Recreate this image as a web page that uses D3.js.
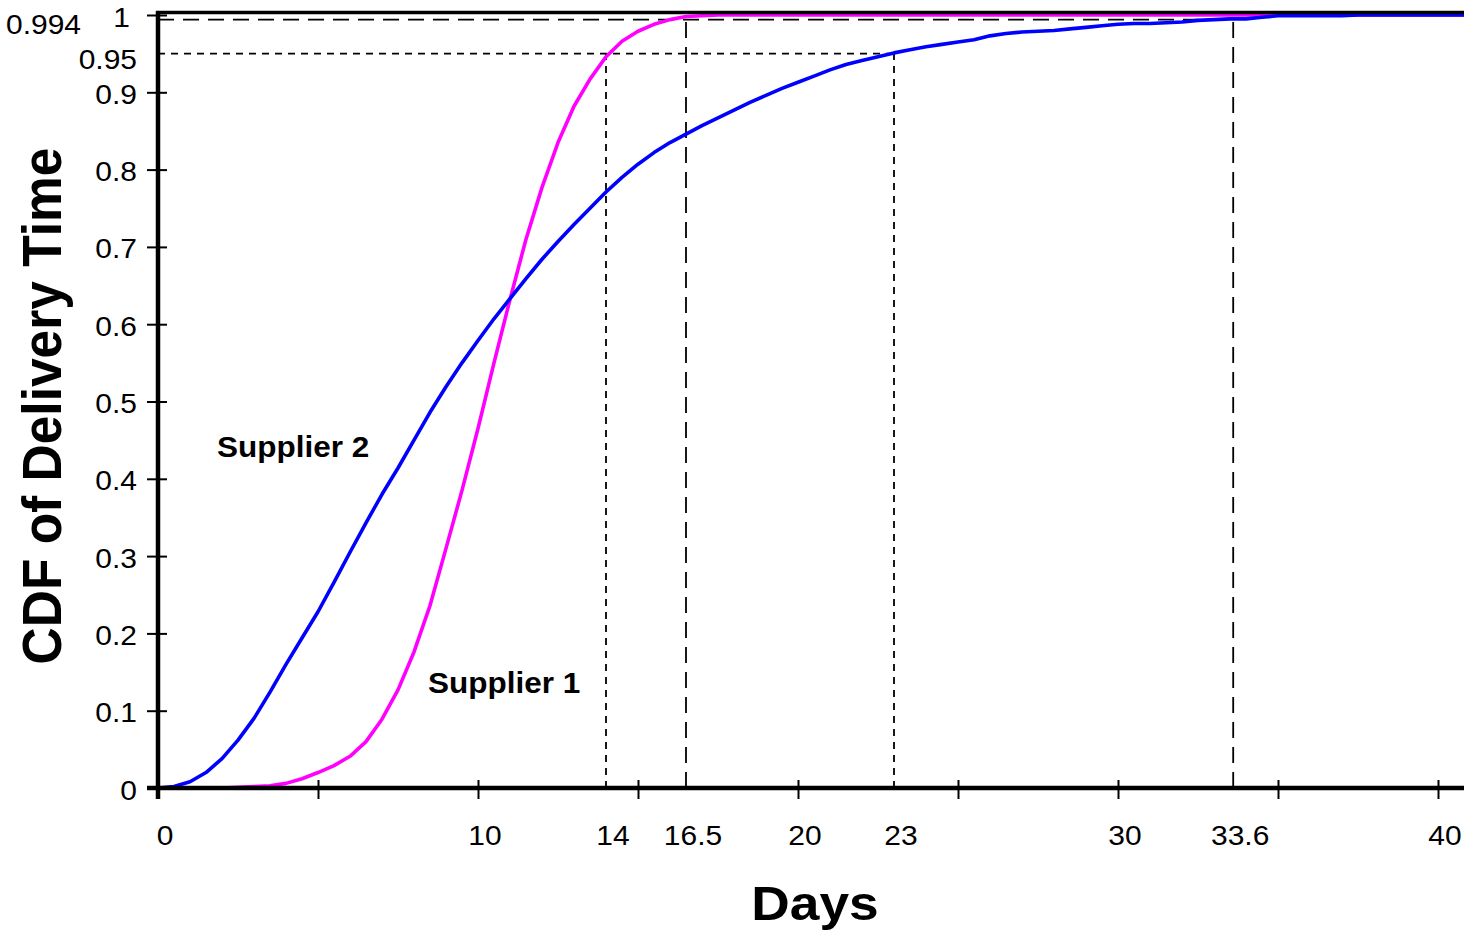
<!DOCTYPE html>
<html>
<head>
<meta charset="utf-8">
<script src="https://cdn.jsdelivr.net/npm/d3@7"></script>
<style>
  html, body { margin: 0; padding: 0; background: #fff; }
  svg { display: block; font-family: "Liberation Sans", Arial, sans-serif; }
</style>
</head>
<body>
<svg id="chart" width="1464" height="936"></svg>
<script>
// Delivery-time samples (days) and cumulative probabilities for both suppliers
const days = [
  0, 0.5, 1, 1.5, 2, 2.5, 3, 3.5, 4, 4.5, 5, 5.5, 6, 6.5, 7, 7.5, 8, 8.5, 9, 9.5,
  10, 10.5, 11, 11.5, 12, 12.5, 13, 13.5, 14, 14.5, 15, 15.5, 16, 16.5, 17, 17.5,
  18, 18.5, 19, 19.5, 20, 20.5, 21, 21.5, 22, 22.5, 23, 23.5, 24, 24.5, 25, 25.5,
  26, 26.5, 27, 27.5, 28, 28.5, 29, 29.5, 30, 30.5, 31, 31.5, 32, 32.5, 33, 33.5,
  34, 34.5, 35, 35.5, 36, 36.5, 37, 37.5, 38, 38.5, 39, 39.5, 40, 40.5, 41
];

const supplier1 = [
  0, 0, 0, 0, 0, 0.001, 0.002, 0.003, 0.006, 0.012, 0.02, 0.029, 0.041, 0.06, 0.089, 0.127, 0.176, 0.236, 0.31, 0.385,
  0.465, 0.55, 0.632, 0.71, 0.777, 0.835, 0.882, 0.917, 0.946, 0.966, 0.979, 0.988, 0.994, 0.998, 0.999, 1,
  1, 1, 1, 1, 1, 1, 1, 1, 1, 1, 1, 1, 1, 1, 1, 1,
  1, 1, 1, 1, 1, 1, 1, 1, 1, 1, 1, 1, 1, 1, 1, 1,
  1, 1, 1, 1, 1, 1, 1, 1, 1, 1, 1, 1, 1, 1, 1
];

const supplier2 = [
  0, 0.002, 0.008, 0.02, 0.038, 0.062, 0.09, 0.124, 0.16, 0.194, 0.228, 0.266, 0.305, 0.343, 0.38, 0.414, 0.45, 0.486, 0.519, 0.55,
  0.579, 0.607, 0.633, 0.659, 0.684, 0.707, 0.729, 0.75, 0.771, 0.79, 0.807, 0.822, 0.835, 0.846, 0.857, 0.867,
  0.877, 0.887, 0.896, 0.905, 0.913, 0.921, 0.929, 0.936, 0.941, 0.946, 0.951, 0.955, 0.959, 0.962, 0.965, 0.968,
  0.973, 0.976, 0.978, 0.979, 0.98, 0.982, 0.984, 0.986, 0.988, 0.989, 0.989, 0.99, 0.991, 0.993, 0.994, 0.995,
  0.995, 0.997, 0.999, 0.999, 0.999, 0.999, 0.999, 1, 1, 1, 1, 1, 1, 1, 1
];

// Reference read-offs: day where each curve reaches the given probability
const markerDays = [14, 16.5, 23, 33.6];
const markerLevels = [0.95, 0.994, 0.95, 0.994];

// Axis ticks and labels
const xTicks = [0, 5, 10, 15, 20, 25, 30, 35, 40];
const xLabels = [0, 10, 14, 16.5, 20, 23, 30, 33.6, 40];
const yTicks = [0, 0.1, 0.2, 0.3, 0.4, 0.5, 0.6, 0.7, 0.8, 0.9, 1];
const yExtraLabels = [0.994, 0.95];

const seriesNames = ["Supplier 1", "Supplier 2"];
const seriesColors = ["#ff00ff", "#0000ff"];

const W = 1464, H = 936;
const svg = d3.select("#chart");
svg.append("rect").attr("width", W).attr("height", H).attr("fill", "#fff");

const x = d3.scaleLinear().domain([0, 40]).range([158, 1438]);
const y = d3.scaleLinear().domain([0, 1]).range([788, 15]);

const STRETCH = 1.11;   // slightly wide lettering
const tickFont = 27;

// Dashed read-off guides
const guides = svg.append("g").attr("fill", "none").attr("stroke", "#000").attr("stroke-width", 1.8);
const dashFor = lv => lv < 0.97 ? "7,6" : "16,9";
const levelsUsed = Array.from(new Set(markerLevels));
levelsUsed.forEach(lv => {
  const reach = d3.max(markerDays.filter((d, i) => markerLevels[i] === lv));
  guides.append("line")
    .attr("x1", x(0)).attr("x2", x(reach))
    .attr("y1", y(lv)).attr("y2", y(lv))
    .attr("stroke-dasharray", dashFor(lv));
});
markerDays.forEach((d, i) => {
  guides.append("line")
    .attr("x1", x(d)).attr("x2", x(d))
    .attr("y1", y(0)).attr("y2", y(markerLevels[i]))
    .attr("stroke-dasharray", dashFor(markerLevels[i]));
});

// CDF curves
const line = d3.line().x(d => x(d[0])).y(d => y(d[1]));
[supplier1, supplier2].forEach((vals, i) => {
  svg.append("path")
    .datum(days.map((d, k) => [d, vals[k]]))
    .attr("fill", "none")
    .attr("stroke", seriesColors[i])
    .attr("stroke-width", 3.6)
    .attr("stroke-linejoin", "round")
    .attr("d", line);
});

// X axis: tick marks crossing the baseline
const xAxis = svg.append("g")
  .attr("transform", `translate(0,${y(0)})`)
  .call(d3.axisBottom(x).tickValues(xTicks).tickFormat("").tickSizeOuter(0));
xAxis.select(".domain").remove();
xAxis.selectAll(".tick line").attr("y1", -8).attr("y2", 11).attr("stroke-width", 2);

// Y axis: tick marks crossing the left edge
const yAxis = svg.append("g")
  .attr("transform", `translate(${x(0)},0)`)
  .call(d3.axisLeft(y).tickValues(yTicks)
    .tickFormat(d => (d === 0 || d === 1) ? String(d) : d3.format(".1f")(d))
    .tickSizeOuter(0));
yAxis.select(".domain").remove();
yAxis.selectAll(".tick line").attr("x1", -11).attr("x2", 9).attr("stroke-width", 2);
yAxis.selectAll(".tick text")
  .attr("x", null).attr("y", null).attr("dy", null)
  .attr("fill", "#000")
  .attr("font-size", tickFont)
  .attr("font-family", "Liberation Sans, Arial, sans-serif")
  .attr("text-anchor", "end")
  .attr("transform", d => `translate(${d === 1 ? -28 : -21},11) scale(${STRETCH},1)`);

// Frame lines: axes and top border
svg.append("line").attr("x1", 147).attr("x2", W).attr("y1", y(0)).attr("y2", y(0))
  .attr("stroke", "#000").attr("stroke-width", 4.5);
svg.append("line").attr("x1", x(0)).attr("x2", x(0)).attr("y1", 11).attr("y2", y(0) + 11)
  .attr("stroke", "#000").attr("stroke-width", 4.5);
svg.append("line").attr("x1", x(0) - 2).attr("x2", W).attr("y1", 12.5).attr("y2", 12.5)
  .attr("stroke", "#000").attr("stroke-width", 3.5);

// X tick labels (including read-off days)
svg.append("g").selectAll("text").data(xLabels).join("text")
  .attr("transform", d => `translate(${x(d) + 7},845) scale(${STRETCH},1)`)
  .attr("text-anchor", "middle")
  .attr("font-size", tickFont)
  .text(d => String(d));

// Extra probability labels for the read-off levels
svg.append("text")
  .attr("transform", `translate(81,${y(yExtraLabels[0]) + 14}) scale(${STRETCH},1)`)
  .attr("text-anchor", "end").attr("font-size", tickFont)
  .text(String(yExtraLabels[0]));
svg.append("text")
  .attr("transform", `translate(137,${y(yExtraLabels[1]) + 15}) scale(${STRETCH},1)`)
  .attr("text-anchor", "end").attr("font-size", tickFont)
  .text(String(yExtraLabels[1]));

// Series labels
svg.append("text")
  .attr("transform", `translate(428,693) scale(1.05,1)`)
  .attr("font-size", 30).attr("font-weight", "bold")
  .text(seriesNames[0]);
svg.append("text")
  .attr("transform", `translate(217,457) scale(1.05,1)`)
  .attr("font-size", 30).attr("font-weight", "bold")
  .text(seriesNames[1]);

// Axis titles
svg.append("text")
  .attr("transform", `translate(815,920) scale(${STRETCH},1)`)
  .attr("text-anchor", "middle")
  .attr("font-size", 48).attr("font-weight", "bold")
  .text("Days");
svg.append("text")
  .attr("transform", `translate(61,406) scale(1.08,1) rotate(-90)`)
  .attr("text-anchor", "middle")
  .attr("font-size", 51.5).attr("font-weight", "bold")
  .text("CDF of Delivery Time");
</script>
</body>
</html>
